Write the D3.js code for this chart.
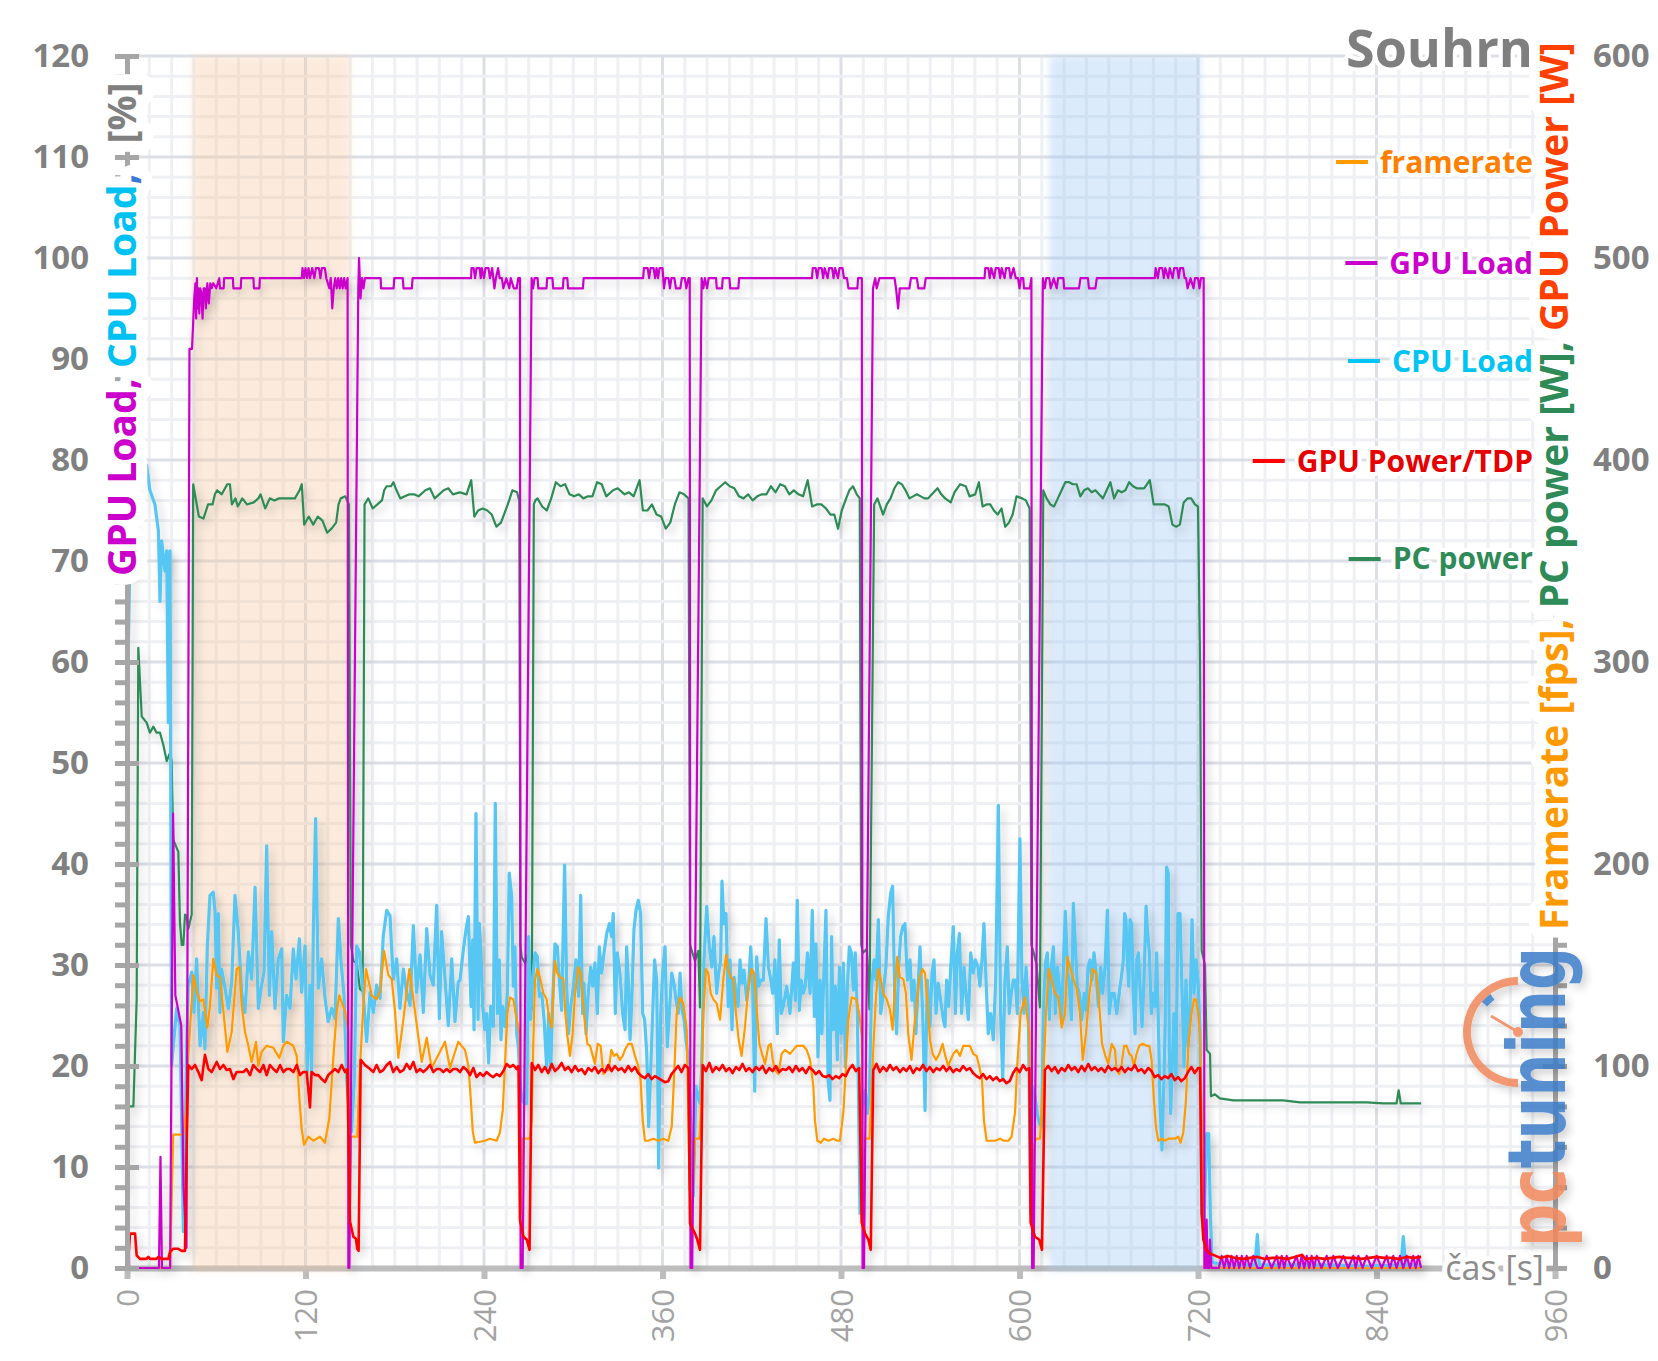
<!DOCTYPE html>
<html>
<head>
<meta charset="utf-8">
<script src="https://cdn.jsdelivr.net/npm/d3@7"></script>
<style>
  body { margin: 0; background: #fff; }
  text { font-family: "Open Sans", sans-serif; }
</style>
</head>
<body>
<div id="chart"></div>
<script>
// ---- data: [time s, value] ----
// GPU load [%] (left axis)
const gpuLoad = [[0,15],[1.5,0],[21.5,0],[22.5,11],[23.5,0],[29,0],[31,45],[32.5,27],[36.5,24],[38,8],[40,2],[42,91],[43.7,91],[45.2,96],[46,97.5],[46.5,94],[47,98],[47.5,95],[48,97],[48.6,94.5],[49.2,97],[50,96.5],[50.8,94],[51.5,97],[52.3,97],[53,95],[54,97.5],[55,95.5],[56,97.5],[57,97],[58,97.5],[60,97],[62,98],[62.5,97],[65,97],[65.3,98],[71.2,98],[71.5,97],[76.5,97],[76.8,98],[85,98],[85.3,97],[89,97],[89.3,98],[117.5,98],[118,99],[119,98],[120,99],[121,98],[122,99],[123,98],[124.5,99],[126,98],[127,99],[129,99],[130,98],[131,99],[133,99],[134,98],[136,97],[137,98],[138,95],[139,97],[140,98],[141,97],[142,98],[143,97],[144,98],[145,97],[146,98],[147,97],[148.3,98],[148.8,0],[149.5,0],[155.5,97],[156,100],[157,96],[158,98],[159,97],[160,98],[170.5,98],[170.8,97],[179.2,97],[179.7,98],[185.4,98],[185.9,97],[191.5,97],[192,98],[231.3,98],[231.6,99],[233,99],[234,98],[235,99],[237,99],[237.8,98],[238.5,99],[240,98],[241,99],[243,99],[244,98],[245.5,99],[247,97],[248,98],[249.5,99],[250.5,98],[252,98],[253,97],[255,98],[257,97],[258,98],[260,97],[262,97],[263,98],[264.2,98],[264.6,0],[266,0],[272,98],[273,97],[274,98],[276,98],[276.5,97],[282,97],[282.5,98],[286,98],[286.5,97],[293,97],[293.5,98],[296,98],[296.5,97],[306.5,97],[307,98],[347,98],[347.5,99],[350,99],[351,98],[352,99],[354,99],[355,98],[356,99],[357,98],[358,99],[360,99],[361,97],[362,98],[364,98],[365,97],[366,98],[368,98],[369,97],[372,97],[373,98],[375,98],[376,97],[377.5,98],[378.3,98],[378.8,0],[380,0],[386.3,98],[387.5,97],[388.5,98],[390,97],[391,98],[396,98],[396.5,97],[400,97],[400.5,98],[405,98],[405.5,97],[411,97],[411.5,98],[460.5,98],[461,99],[463,99],[464,98],[465,99],[467,99],[468,98],[469,99],[471,98],[472,99],[474,99],[475,98],[476,99],[478,98],[479,99],[481,99],[482,98],[484,98],[485,97],[491,97],[491.5,98],[494,98],[494.5,0],[495.5,0],[501.5,97],[503,98],[504,97],[505.8,98],[516,98],[517,97],[518.4,95],[519.5,97],[526,97],[527,98],[531,98],[532,97],[536,97],[537,98],[576.5,98],[577,99],[579,99],[580,98],[581,99],[583,98],[584,99],[586,99],[587,98],[588,99],[590,98],[591,99],[593,99],[594,98],[596,99],[597.5,98],[599,98],[600,97],[601,98],[602.5,98],[603,97],[607,97],[608,98],[608.5,0],[609.5,0],[615.7,98],[617,97],[618,98],[620,98],[621,97],[623,98],[625,97],[626,98],[629.5,98],[630,97],[640,97],[641,98],[646,98],[646.7,97],[651,97],[652,98],[691,98],[691.5,99],[693,98],[694,99],[696,99],[697,98],[698,99],[700,98],[701,99],[703,98],[704,99],[706,99],[707,98],[708,99],[710,99],[711,98],[712,98],[713,97],[715,98],[717,97],[718,98],[720,98],[721,97],[722,98],[723.8,98],[724.3,0],[725.2,0],[725.8,4.8],[726.5,0],[727.5,0],[728,2.8],[729,0],[734,0],[735.9,1.2],[737.6,0],[739.3,1.2],[741,0],[742.6,1.2],[744.3,0],[746,1.2],[747.7,0],[749.4,1.2],[751,0],[752.7,1.2],[755,0],[757.2,1.2],[760,0],[763,0],[766.2,1.2],[769.5,0],[772.9,1.2],[774.6,0],[776.3,1.2],[778,0],[779.6,1.2],[783,0],[786.3,1.2],[788,0],[789.7,1.2],[791.4,0],[793.1,1.2],[794.8,0],[796.4,1.2],[798,0],[799.8,1.2],[803,0],[806.5,1.2],[808.7,0],[811,1.2],[814,0],[817.7,1.2],[821,0],[824.4,1.2],[826,0],[827.8,1.2],[830.6,0],[833.4,1.2],[836.8,0],[840.1,1.2],[843.5,0],[846.8,1.2],[849,0],[851.3,1.2],[853.5,0],[855.8,1.2],[858,0],[860.3,1.2],[862.5,0],[864.7,1.2],[866.4,0],[868.1,1.2],[870,0]];

// CPU load [%] (left axis)
const cpuLoad = [[0,8],[1,62],[3,80],[6.5,80],[9.9,79.7],[13.2,79.5],[15.4,77],[18.8,75.6],[21.1,73],[22.2,66],[23.3,72],[25.5,69],[26.7,71],[27.8,54],[28.9,71],[30,20.1],[33.4,25.7],[35.6,24],[36.8,14.1],[37.9,3.6],[39,12.1],[40.1,22],[41.2,28],[43.5,29.3],[45,25.3],[46.8,30.6],[49.1,22],[51.3,25.3],[52.4,21.7],[54,31.8],[55.8,36.9],[58,37.2],[59.2,35.2],[60.3,27.7],[61.4,35.1],[62.5,25.3],[63.6,29.6],[65.9,27.7],[68.1,25.7],[70.4,28.3],[72.6,36.9],[74.8,33.3],[77.1,27.3],[79.3,25.3],[81.6,31.3],[83.8,28.6],[86.1,37.7],[88.3,25.7],[90.5,28],[92.1,29.3],[93.9,41.8],[95.7,27],[97.3,33.3],[99.5,25.7],[101.7,30.6],[104,31.6],[105.1,22.4],[107.3,27],[109.6,25.7],[111.8,31.6],[113.6,28.6],[115.9,32.6],[117.4,27.3],[119.7,31.9],[121.2,19.4],[123,28],[124.1,19.1],[125.3,33.6],[126.8,44.5],[128.6,27.7],[130.9,30.6],[133.1,26.7],[135.3,24.4],[137.6,25.7],[139.8,24.7],[142.1,34.6],[143.9,30.3],[145.9,27],[147.7,18.7],[149.5,15.4],[151,13.5],[152.8,18.7],[154.4,31.9],[156.2,31.3],[158.9,27],[161.1,22.4],[163.4,27.3],[165.6,25.3],[167.8,28],[170.1,26.7],[172.3,32.9],[174.6,35.4],[176.8,34.9],[179,28.6],[181.3,30.6],[183.5,25.7],[185.8,29.6],[188,27.3],[190.3,26],[192.5,33.9],[194.7,27.3],[197,31],[199.2,25.3],[201.5,33.6],[203.7,29],[205.9,28],[208.2,35.9],[210,24.7],[211.5,33.3],[213.8,28.6],[216,24],[218.3,30.6],[220.5,24.4],[222.7,28.3],[223.9,28.5],[226.1,31.5],[227.9,33.5],[229.5,34.8],[231.3,25.9],[232.4,32.5],[233.3,23.6],[234.6,45],[236,24.6],[236.9,34.1],[238,31.2],[239.1,25.9],[240.5,23.6],[241.8,25.2],[243.1,20.3],[244.5,25.9],[246.3,23.9],[247.6,46],[249,25.2],[250.3,30.5],[251.4,22.6],[252.5,25.9],[254.1,23.9],[255.7,27.2],[257,39.1],[258.6,36.8],[259.7,27.9],[260.8,31.8],[262,23.2],[263.1,21.9],[264.2,18.6],[265.5,16.6],[266.9,16.3],[268.7,16.3],[270,32.8],[271.4,24.6],[272.7,28.5],[274.3,31.2],[275.9,30.8],[277.2,26.9],[278.8,27.2],[280.4,24.6],[282.1,19.9],[283.5,25.2],[284.8,19.6],[286.2,26.5],[287.7,32.1],[289.3,31.8],[290.6,28.5],[292.2,25.5],[294.2,39.9],[295.6,27.9],[296.9,23.2],[298.3,25.9],[300.1,27.9],[301.8,30.5],[303.6,26.9],[305,36.9],[306.3,25.2],[307.2,28.2],[308.6,23.2],[310.1,27.2],[311.7,29.8],[313.1,27.9],[314.6,30.2],[316.2,25.2],[317.5,31.8],[319.1,29.2],[320.7,31.2],[322.5,33.1],[324.3,34.1],[325.8,32.8],[326.9,35.1],[328.3,25.2],[329.6,31.2],[331.4,29.2],[333.2,25.2],[334.8,23.6],[335.9,31.8],[337,28.5],[338.2,22.6],[339.3,26.2],[340.8,33.5],[342.2,35.4],[343.7,36.4],[345.3,35.1],[346.7,25.2],[348,24.6],[349.4,21.3],[350.7,14],[352,19.3],[353.4,25.2],[354.7,30.5],[356.1,28.5],[357.4,9.9],[358.8,25.2],[360.1,29.2],[361.7,31.8],[363.2,21.9],[364.6,25.2],[366.2,29.2],[367.7,28.2],[369.1,26.5],[370.6,25.2],[371.8,29.2],[373.1,25.5],[374.5,24.6],[375.8,22.6],[377.2,20.9],[378.5,16.6],[380.7,7.1],[382.5,18],[383.9,17],[385.2,16.3],[386.3,19.9],[387.9,30.5],[389.7,35.8],[391.5,31.8],[393.1,29.8],[394.6,32.8],[396.4,27.2],[397.8,29.2],[399.1,30.5],[400,38.3],[401.3,34.1],[402.7,35.1],[404.2,25.9],[405.4,30.5],[406.7,23.6],[408.1,28.8],[409.4,27.2],[410.8,25.9],[412.1,30.5],[413.5,28.2],[414.8,29.5],[416.6,26.5],[417.9,27.9],[419.3,31.8],[420.6,27.9],[422,17.5],[423.3,30.8],[424.7,27.9],[426,28.5],[427.8,28.5],[429.6,34.6],[431.2,29.8],[432.8,28.5],[434.1,27.2],[435.6,30.5],[437.2,23.2],[438.5,32.5],[439.9,25.2],[441.2,25.9],[443.5,27.9],[445.7,25.2],[448,30.2],[449.3,26.5],[450.6,36.4],[452,25.5],[453.3,28.5],[454.7,27.2],[456,27.9],[457.4,31.2],[459.2,27.2],[460.7,35.4],[462.1,24.9],[463.2,32.1],[464.5,20.9],[465.9,28.5],[467.2,23.2],[468.6,29.8],[469.9,35.4],[471.3,18.6],[472.6,16.6],[473.7,32.8],[474.8,23.6],[476.2,27.9],[477.5,20.6],[478.9,29.8],[480.2,23.2],[481.6,30.2],[482.9,19.9],[484.3,27.9],[485.6,31.8],[487,31.2],[488.3,27.5],[489.6,31.2],[491,25.2],[492.8,5.4],[493.9,15.3],[496.2,17.6],[497.7,15.3],[499.1,17.3],[500.6,27.9],[502.2,30.5],[503.5,28.5],[505.1,34.5],[506.7,25.2],[508.4,27.2],[510.2,29.8],[511.8,34.8],[513.4,37.1],[514.7,37.8],[516.1,26.9],[517.4,23.2],[518.8,29.8],[520.1,32.8],[521.5,33.8],[523,34.1],[524.6,28.5],[526.4,30.5],[527.7,26.5],[529.1,28.5],[530.4,23.2],[531.8,27.9],[533.1,31.8],[534.9,25.2],[536.5,15.6],[538,28.5],[539.8,23.9],[541.2,29.2],[542.5,30.5],[543.9,25.2],[545.4,28.2],[547,26.5],[548.8,24.6],[549.9,23.9],[551,28.5],[552.4,25.9],[553.7,29.5],[555.5,33.8],[556.9,25.2],[558.2,31.2],[559.6,33.1],[561.1,25.2],[562.7,29.8],[564,27.2],[565.6,24.6],[567.2,31.2],[569,29.2],[570.3,30.5],[572.1,29.8],[573.4,27.9],[574.8,30.5],[576.1,34.1],[577.5,28.5],[579,23.2],[580.6,25.2],[582.4,22.6],[584,28.5],[585.8,45.8],[587.3,25.2],[588.7,18.6],[590.2,28.5],[591.8,31.8],[593.1,25.2],[594.5,27.2],[595.8,28.5],[597.2,28.5],[598.5,25.2],[600.3,42.5],[601.7,28.5],[603,25.2],[604.4,29.8],[605.9,25.9],[607.5,5.4],[608.9,18],[610.4,17],[612,15.3],[613.3,14.3],[614.9,14],[616,25.2],[617.4,30.2],[618.7,31.2],[620.1,24.6],[621.4,29.8],[622.8,31.8],[624.1,25.2],[625.5,29.8],[626.8,27.9],[628.4,24.6],[630,32.1],[630.8,35.3],[632.2,29.8],[633.5,27.9],[634.9,24.6],[636.2,36.1],[637.6,31.8],[638.9,27.9],[640.3,27.2],[641.8,24.6],[643.4,27.2],[644.7,25.5],[646.1,29.8],[647.4,30.5],[648.8,28.5],[650.1,31.2],[651.5,29.2],[653,25.9],[654.6,29.8],[655.9,27.2],[657.5,29.8],[659.1,35.4],[660.4,25.2],[662,27.2],[663.6,27.2],[665.4,25.2],[667.6,27.9],[668.5,28.8],[669.8,30.5],[670.7,35.1],[671.6,34.5],[672.5,30.5],[673.4,27.9],[674.3,34.5],[675.4,34.1],[676.5,27.2],[677.7,23.2],[678.8,30.5],[679.9,31.2],[681,27.9],[682.4,23.9],[683.7,28.5],[685.1,35.8],[686,33.5],[687.3,31.2],[688.6,25.2],[690,27.2],[691.1,25.9],[692.2,31.2],[693.3,24.6],[694.5,16],[695.8,11.7],[697.1,18.6],[698,24.6],[698.9,39.7],[700,39.1],[700.7,21.9],[701.6,15.3],[702.9,20.9],[703.8,25.2],[705.2,18.6],[706.5,35.1],[707.9,35.1],[709.2,27.9],[710.6,19.9],[711.9,28.5],[713.3,21.9],[714.6,25.2],[716,34.5],[717.3,27.2],[718.7,30.5],[720,28.5],[721.4,23.6],[722.5,5.4],[724,3.8],[725.8,13.3],[727.2,13.3],[728.3,5.4],[729.4,0.8],[730.3,0.5],[743.7,0.3],[758.3,0.3],[759.9,3.3],[761.2,0.3],[788.6,0.3],[811,0.3],[833.4,0.2],[856.5,0.3],[858,3.1],[859.6,0.3],[870,0.3]];

// GPU Power / TDP [%] (left axis)
const gpuPower = [[0,1.2],[1.1,1.3],[2,3.4],[5.4,3.4],[6.5,1.25],[8.7,0.9],[13.2,0.9],[14.3,1.1],[15.5,0.9],[19.9,0.9],[21.1,1.1],[23.3,0.9],[27.8,0.9],[28.9,1.6],[31.1,1.9],[34.5,1.9],[36.8,1.7],[39,1.7],[40.1,12],[41.2,20.1],[43.5,19.7],[45.7,20.1],[48,19.4],[50.2,18.6],[52.4,21.1],[54.7,19.7],[56.9,19.4],[60.3,20.4],[62.5,19.7],[64.8,20.1],[67,19.6],[69.2,19.7],[71.5,18.7],[73.7,19.4],[76,19.4],[78.2,19.4],[80.4,19.7],[82.7,19.1],[84.9,20.1],[87.2,19.7],[89.4,19.4],[91.7,20.1],[93.9,19.1],[96.1,20.1],[98.4,19.7],[100.6,19.4],[102.9,20.1],[105.1,19.4],[107.3,19.7],[109.6,19.7],[111.8,19.4],[114.1,20.1],[116.3,19.1],[118.5,19.4],[120.8,19.4],[123,15.9],[124.1,19.4],[126.4,19.1],[128.6,19.1],[130.9,18.7],[133.1,18.4],[135.3,19.1],[137.6,19.4],[139.8,19.7],[142.1,19.4],[144.3,20.1],[146.6,19.4],[148.1,19.7],[149.9,4.6],[152.2,3.1],[153.9,2.9],[154.8,1.9],[155.7,1.7],[157.1,20.6],[160,20.1],[163.4,19.7],[165.6,19.4],[167.8,20.1],[170.1,19.4],[172.3,19.6],[174.6,20.1],[176.8,20.4],[179,19.4],[181.3,19.9],[183.5,19.4],[185.8,19.6],[188,20.2],[190.3,19.7],[192.5,20.4],[194.7,19.4],[197,19.7],[199.2,19.4],[201.5,19.7],[203.7,20.1],[205.9,19.4],[208.2,19.7],[210.4,19.7],[212.7,19.4],[214.9,19.7],[217.1,19.4],[219.4,19.7],[221.6,19.7],[223.9,19.4],[226.1,19.9],[228.4,19.6],[230.6,19.1],[232.8,19.8],[235,18.9],[237.3,19.3],[239.5,19],[241.7,19.4],[244,19.1],[246.2,18.9],[248.5,19.2],[250.7,19],[253,19.5],[255.2,20.2],[257.4,19.9],[259.7,20.1],[261.9,19.7],[263.2,20],[264.2,4.7],[266.6,3.1],[268.8,2.8],[270.6,1.8],[272.1,20.3],[274.3,19.6],[276.5,20.1],[278.8,19.4],[281,19.9],[283.2,19.3],[285.5,20.2],[287.7,19.5],[290,19.8],[292.2,20.3],[294.4,19.6],[296.7,19.9],[298.9,19.4],[301.2,20],[303.4,19.5],[305.6,19.7],[307.9,19.2],[310.1,19.8],[312.4,19.5],[314.6,19.9],[316.8,19.3],[319.1,19.7],[321.3,19.4],[323.5,20.1],[325.8,19.5],[328,20],[330.3,19.6],[332.5,19.8],[334.7,19.4],[337,20],[339.2,19.5],[341.5,19.9],[343.7,19.3],[345.9,19],[348.2,18.8],[350.4,19.2],[352.7,18.7],[354.9,19],[357.1,18.8],[359.4,18.6],[361.6,18.4],[363.9,18.5],[366.1,19.2],[368.3,19.6],[370.6,20],[372.8,19.4],[375,20.1],[377.4,19.8],[378.5,4.4],[381.9,3.4],[383.4,2.8],[385.2,1.8],[387,20.1],[389.2,19.5],[391.5,20.3],[393.7,19.4],[395.9,19.9],[398.2,19.6],[400.4,20.1],[402.7,19.5],[404.9,19.8],[407.1,19.3],[409.4,19.9],[411.6,19.6],[413.8,20.2],[416.1,19.5],[418.3,19.8],[420.6,19.4],[422.8,19.9],[425,19.6],[427.3,20],[429.5,19.3],[431.8,19.8],[434,19.5],[436.2,20],[438.5,19.4],[440.7,19.7],[443,19.6],[445.2,19.9],[447.4,19.4],[449.7,20],[451.9,19.5],[454.1,19.8],[456.4,19.3],[458.6,19.9],[460.9,19.6],[463.1,19.2],[465.3,19.5],[467.6,19],[469.8,18.9],[472,19.1],[474.3,18.7],[476.5,19],[478.8,18.8],[481,19.2],[483.2,19],[485.5,19.7],[487.7,20.1],[490,19.5],[492.2,19.8],[493.9,4.5],[496.2,3.4],[498.4,2.8],[500,1.8],[501.7,19.6],[503.9,20.2],[506.1,19.4],[508.4,19.9],[510.6,19.5],[512.9,20.1],[515.1,19.6],[517.3,19.9],[519.6,19.4],[521.8,19.8],[524,19.5],[526.3,20],[528.5,19.3],[530.8,19.8],[533,19.6],[535.2,20.1],[537.5,19.5],[539.7,19.9],[542,19.4],[544.2,19.8],[546.4,19.6],[548.7,20],[550.9,19.5],[553.1,19.9],[555.4,19.4],[557.6,19.7],[559.9,19.5],[562.1,20],[564.3,19.6],[566.6,19.8],[568.8,19.3],[571.1,19],[573.3,18.8],[575.5,19.2],[577.8,18.7],[580,19],[582.2,18.6],[584.5,18.9],[586.7,18.5],[589,18.7],[591.2,18.3],[593.4,18.5],[595.7,19.3],[597.9,19.8],[600.2,19.4],[602.4,20.1],[604.6,19.6],[606.6,19.8],[607.5,4.5],[610.4,3.1],[613.3,2.8],[615.1,1.8],[617.1,19.6],[619.3,20],[621.6,19.5],[623.8,19.9],[626,19.3],[628.3,19.8],[630.5,19.5],[632.8,20.1],[635,19.6],[637.2,19.9],[639.5,19.4],[641.7,20],[643.9,19.5],[646.2,20.2],[648.4,19.6],[650.7,19.9],[652.9,19.5],[655.1,19.8],[657.4,19.4],[659.6,20],[661.9,19.6],[664.1,19.8],[666.3,19.5],[668.6,19.9],[670.8,19.4],[673,19.8],[675.3,19.6],[677.5,20.1],[679.7,19.5],[682,19.7],[684.2,19.3],[686.5,19.8],[688.7,19.5],[690.9,18.9],[693.2,19.1],[695.4,18.7],[697.7,19],[699.9,18.8],[702.1,19.2],[704.4,18.6],[706.6,18.9],[708.8,18.5],[711.1,18.8],[713.3,19.4],[715.6,19.9],[717.8,19.3],[720,19.8],[721.4,19.8],[722.5,5.4],[723.6,2.8],[725.8,1.8],[728.1,1.4],[730.3,1.3],[735,1],[740,1.2],[745,1],[750,0.9],[755,1],[760,1.1],[765,0.9],[770,1],[775,1],[780,0.9],[785,1.1],[790,1.3],[792,0.9],[800,1],[805,0.9],[810,1],[815,1.1],[820,1],[825,1],[830,0.9],[835,1],[840,1.1],[845,1],[850,1],[855,0.9],[860,1.1],[865,1],[870,1.1]];

// framerate [fps] (right axis)
const framerate = [[0,0],[28.9,0],[31.1,66],[37.9,66],[39.7,77],[41.2,105],[44.6,145],[46.8,137],[49.1,132],[51.3,133],[54,119],[55.8,130],[58,153],[60.3,145],[62.5,144],[64.8,127],[67.5,107],[70.4,117],[73.7,148],[75.5,149],[77.1,130],[79.3,117],[81.6,110],[83.8,102],[86.7,112],[88.3,100],[90.5,107],[93.9,110],[98.4,109],[102.4,104],[105.1,110],[107.3,112],[111.8,110],[114.1,105],[115.9,84],[117.4,69],[119,61],[121.9,65],[125.3,63],[129.7,65],[133.1,62],[136,74],[138.7,104],[141,127],[142.7,135],[146.6,127],[148.8,117],[149.9,28],[150.6,65],[154.8,65],[156.2,94],[158.9,130],[160.7,148],[164.5,135],[167.8,133],[170.1,137],[172.8,157],[175.7,145],[177.9,143],[180.2,127],[182.4,104],[185.8,123],[189.8,148],[193.6,127],[198.1,102],[201.5,114],[204.8,99],[210.4,107],[213.8,112],[217.1,99],[222.7,112],[227.2,108],[229.5,100],[231,85],[232.4,68],[233.9,62],[240.6,63],[244,64],[248.5,63],[250.7,67],[252.6,78],[254.1,101],[255.7,126],[257.5,134],[259.7,133],[262,123],[263.8,116],[264.6,27],[266,64],[270.9,64],[272,73],[273.1,110],[274.3,143],[275.9,148],[277.6,144],[279.9,136],[282.1,133],[283.9,123],[285.5,119],[287.7,152],[289.3,146],[291.1,144],[293.4,143],[294.7,126],[296,115],[297.8,105],[299.6,116],[301.2,136],[303.4,149],[305,146],[306.3,134],[307.9,121],[309.5,111],[311.3,110],[313.1,105],[314.6,101],[316.4,111],[318.4,110],[320.2,96],[322,98],[323.8,98],[325.6,108],[327.4,105],[329.2,106],[331.4,103],[333.2,105],[334.8,108],[337,111],[339.3,111],[341.5,105],[343.7,100],[345.3,93],[346.7,73],[348.2,63],[350.4,63],[353.8,64],[357.2,63],[360.6,64],[363.9,63],[366.2,70],[367.7,93],[369.5,126],[371.8,134],[374,131],[376.3,118],[378.1,44],[379,27],[380.3,34],[381.9,64],[384.8,64],[385.7,77],[387.5,126],[389.2,148],[390.8,146],[392.4,136],[394.2,133],[396.4,131],[398.7,123],[400.9,143],[402.7,155],[404.2,148],[405.8,144],[407.6,143],[409.4,126],[411.2,113],[413.2,105],[415.4,119],[417.7,139],[419.9,148],[421.5,146],[423.3,129],[425.1,111],[426.9,106],[428.9,101],[431.2,110],[432.8,111],[434.1,103],[435.6,98],[437.9,96],[440.1,106],[442.3,108],[445.7,106],[448,108],[450.2,110],[452.4,110],[454.7,110],[456.9,108],[459.2,103],[461.4,90],[462.5,73],[464.1,63],[466.3,62],[468.6,64],[471.5,63],[474.8,64],[477.5,63],[479.3,63],[481.6,77],[483.4,101],[484.9,123],[487.2,134],[490.1,133],[492.3,126],[493.9,115],[494.6,27],[496.2,64],[499.1,64],[500,77],[501.8,110],[503.5,134],[505.1,148],[506.7,143],[508.4,136],[510.7,133],[512.9,128],[514.7,118],[516.3,139],[517.8,154],[519.6,144],[521.9,143],[523.6,136],[525.2,116],[527.4,103],[529.7,123],[532.6,143],[534.8,148],[536.4,146],[538,133],[539.8,113],[541.6,106],[543.9,103],[546.1,106],[548.3,111],[550.1,105],[552.1,100],[553.7,103],[555.5,106],[557.7,108],[560,105],[562.2,110],[564.4,110],[566.7,110],[568.9,106],[571.2,105],[572.9,100],[574.8,93],[576.1,73],[577.9,63],[580.6,63],[583.5,63],[586.9,64],[589.6,63],[592.5,63],[594.7,65],[597,77],[598.5,101],[600.8,126],[603.7,134],[606.6,116],[608.2,22],[609.7,60],[611.1,64],[613.8,64],[616,93],[617.8,126],[619.6,148],[621.6,143],[623.8,136],[626.1,134],[628.4,119],[630.6,126],[632.2,154],[634,149],[636.2,143],[638.5,138],[640.7,126],[642.5,103],[644.7,116],[647,136],[649.2,148],[651.5,146],[653.7,129],[655.5,111],[657.7,105],[659.7,101],[662,111],[664.2,108],[665.3,98],[667.1,96],[668.7,101],[670.3,110],[672,110],[673.8,106],[675.4,105],[677,100],[678.7,106],[680.5,110],[682.8,111],[685.5,110],[687.3,110],[688.8,103],[690.4,83],[691.7,70],[693.3,63],[695.5,64],[697.8,63],[700,64],[702.3,64],[704.5,64],[706.8,65],[708.3,62],[710.1,67],[711.9,83],[713.5,110],[715.6,126],[717.3,133],[718.6,133],[720.2,126],[721.3,116],[722.5,77],[723.6,27],[724.7,0],[870,0]];

// PC power [W] (right axis)
const pcPower = [[0,80],[4.3,80],[6.5,133],[7.6,307],[9.9,273],[13.2,270],[15.4,265],[17.7,268],[19.9,265],[22.2,265],[24.4,259],[26.7,251],[28.9,255],[30,251],[31.1,212],[34.5,206],[35.6,171],[36.8,160],[37.9,160],[39,175],[40.1,174],[41.2,168],[43.5,175],[44.5,388],[48.3,372],[51.4,371],[54.5,378],[57.5,378],[59.1,383],[60.6,385],[63.7,383],[67.4,388],[69.2,388],[70.5,378],[72.9,381],[74.5,377],[77.5,381],[80.6,378],[85.2,379],[88.3,381],[89.8,383],[92.9,376],[96,381],[99.1,380],[102.2,381],[105.2,381],[108.3,381],[112.9,381],[116,385],[117.5,388],[119.1,368],[122.2,372],[125.2,368],[128.3,372],[131.4,370],[134.5,364],[137.5,366],[140.6,369],[142.2,378],[143.7,381],[146.8,382],[149.2,378],[150.5,160],[152.2,152],[154.4,151],[156.6,138],[158.4,137],[159.7,378],[162.2,381],[165.2,376],[168.3,378],[171.4,380],[172.9,385],[174.5,387],[177.5,387],[179.1,389],[180.6,386],[183.7,381],[186.8,382],[189.9,383],[192.9,383],[196,382],[200.6,385],[203.7,386],[206.8,381],[209.9,383],[212.9,385],[216,386],[219.1,383],[223.7,384],[228.3,383],[231.4,390],[233.5,372],[236,375],[239.1,376],[242.2,375],[245.2,373],[248.3,367],[251.4,369],[256,378],[259.1,385],[262.2,384],[263.7,380],[264.5,160],[265.3,154],[267.6,151],[269.9,156],[272.1,128],[273.5,378],[274.5,380],[276,381],[279.1,377],[282.2,375],[285.2,381],[288.3,389],[291.4,387],[294.5,388],[297.5,383],[300.6,382],[303.7,383],[306.8,381],[309.9,382],[312.9,382],[316,389],[319.1,388],[322.2,382],[326.8,385],[329.9,386],[334.5,383],[337.5,384],[340.6,382],[344.6,390],[346.8,375],[349.9,375],[352.9,378],[356,373],[359.1,372],[362.2,366],[365.2,369],[368.3,378],[371.4,384],[374.5,383],[377.5,381],[378.5,160],[381.8,152],[384.1,157],[385.2,129],[387,381],[389.9,377],[392.9,380],[396,385],[399.1,387],[402.2,389],[405.2,387],[408.3,386],[411.4,382],[414.5,381],[417.6,383],[420.6,380],[423.7,382],[426.8,383],[429.9,383],[432.9,387],[436,384],[439.1,388],[442.2,387],[445.2,383],[448.3,385],[451.4,383],[454.5,382],[457.6,390],[460.6,377],[463.7,378],[466.8,378],[469.9,376],[472.9,373],[475.5,373],[478,366],[480.5,375],[483,380],[485.6,385],[488.1,387],[490.6,383],[492.6,381],[493.6,160],[494.7,156],[497.4,158],[499.1,128],[502.3,378],[504.5,381],[508.3,373],[510.8,378],[513.3,381],[515.9,386],[518.4,389],[520.9,388],[523.4,385],[526,381],[528.5,382],[531,383],[533.6,382],[536.1,381],[538.6,381],[541.1,383],[544.9,386],[547.4,383],[550,381],[553.8,379],[556.3,384],[560.1,388],[563.9,387],[566.4,382],[570.2,383],[572.7,389],[575.2,377],[577.8,378],[580.3,378],[582.8,375],[585.3,373],[587.9,376],[590.4,367],[592.9,369],[595.4,373],[598,382],[601.8,381],[604.3,380],[606.8,376],[608,160],[609.2,157],[611.5,150],[613.7,129],[616,385],[618.2,381],[620.7,378],[623.2,377],[625.8,381],[628.3,385],[630.8,389],[633.3,389],[635.9,388],[638.4,388],[640.9,382],[643.4,385],[646,386],[648.5,384],[651,385],[653.5,383],[656.1,381],[658.6,385],[661.1,389],[663.6,381],[666.2,385],[668.7,384],[671.2,385],[673.7,389],[676.3,387],[678.8,386],[681.3,386],[683.8,386],[687.6,390],[690.2,378],[692.7,378],[695.2,378],[697.7,378],[700.3,377],[702.8,368],[705.3,367],[707.8,368],[710.4,379],[712.9,381],[715.4,381],[717.9,378],[720,377],[721.4,300],[722.5,157],[724.7,150],[725.8,108],[728.1,106],[728.7,85],[731.4,86],[734.7,84],[743.7,83],[754.9,83],[766.1,83],[777.3,83],[788.5,82],[799.7,82],[810.9,82],[822.1,82],[833.4,82],[844.6,81.5],[853.5,81.5],[854.9,88],[856.3,81.5],[870,81.5]];

// highlighted time ranges [s]
const bands = [[44, 150], [620, 722]];
const xTicks = [0, 120, 240, 360, 480, 600, 720, 840, 960];
const legendNames = ["framerate", "GPU Load", "CPU Load", "GPU Power/TDP", "PC power"];

// ---- drawing ----
const svg = d3.select("#chart").append("svg")
  .attr("width", 1658).attr("height", 1361);

const x = d3.scaleLinear().domain([0, 960]).range([127, 1555]);
const yL = d3.scaleLinear().domain([0, 120]).range([1268, 56]);
const yR = d3.scaleLinear().domain([0, 600]).range([1268, 56]);

const defs = svg.append("defs");
const sh = defs.append("filter").attr("id", "shadow").attr("filterUnits", "userSpaceOnUse")
  .attr("x", 0).attr("y", 0).attr("width", 1658).attr("height", 1361);
sh.append("feDropShadow").attr("dx", 4).attr("dy", 5).attr("stdDeviation", 4)
  .attr("flood-color", "#000").attr("flood-opacity", 0.2);
const soft = defs.append("filter").attr("id", "soft").attr("filterUnits", "userSpaceOnUse")
  .attr("x", 0).attr("y", 0).attr("width", 1658).attr("height", 1361);
soft.append("feGaussianBlur").attr("stdDeviation", 3);

// grid
const grid = svg.append("g");
grid.selectAll(".gv").data(d3.range(0, 961, 15)).enter().append("line")
  .attr("x1", d => x(d)).attr("x2", d => x(d))
  .attr("y1", yL(120)).attr("y2", yL(0))
  .attr("stroke", d => d % 120 === 0 ? "#dcdfe6" : "#eef0f4")
  .attr("stroke-width", 3);
grid.selectAll(".gh").data(d3.range(0, 121, 2)).enter().append("line")
  .attr("x1", x(0)).attr("x2", x(960))
  .attr("y1", d => yL(d)).attr("y2", d => yL(d))
  .attr("stroke", d => d % 10 === 0 ? "#dcdfe6" : "#eef0f4")
  .attr("stroke-width", 3);

// bottom axis
const axB = svg.append("g").attr("transform", `translate(0,${yL(0)})`)
  .call(d3.axisBottom(x).tickValues(xTicks).tickSize(11).tickSizeOuter(0));
axB.select(".domain").attr("stroke", "#bdbdbd").attr("stroke-width", 6);
axB.selectAll(".tick line").attr("stroke", "#bdbdbd").attr("stroke-width", 6);
axB.selectAll(".tick text")
  .attr("x", 0).attr("y", 0).attr("dy", "0.36em")
  .attr("transform", "translate(0,21) rotate(-90)")
  .attr("text-anchor", "end")
  .attr("fill", "#a3a3a3")
  .style("font-size", "31px");

// bands
const bandColors = ["#f8c9a0", "#9dc8f5"];
svg.append("g").selectAll("rect").data(bands).enter().append("rect")
  .attr("x", d => x(d[0])).attr("width", d => x(d[1]) - x(d[0]))
  .attr("y", yL(120)).attr("height", yL(0) - yL(120) + 3)
  .attr("fill", (d, i) => bandColors[i]).attr("opacity", 0.36)
  .attr("filter", "url(#soft)");

// series
const series = [
  { data: pcPower, y: yR, color: "#2e8b57", w: 2.2 },
  { data: cpuLoad, y: yL, color: "#58c6f2", w: 3.2 },
  { data: framerate, y: yR, color: "#ff9a00", w: 2.2 },
  { data: gpuLoad, y: yL, color: "#cc00cc", w: 2.2 },
  { data: gpuPower, y: yL, color: "#ff0000", w: 2.6 }
];
const lines = svg.append("g").attr("filter", "url(#shadow)");
series.forEach(s => {
  const gen = d3.line().x(d => x(d[0])).y(d => s.y(d[1]));
  lines.append("path").attr("d", gen(s.data))
    .attr("fill", "none").attr("stroke", s.color)
    .attr("stroke-width", s.w).attr("stroke-linejoin", "round");
});

// left axis
const axL = svg.append("g").attr("transform", `translate(${x(0)},0)`)
  .call(d3.axisLeft(yL).tickValues(d3.range(0, 121, 2)).tickSize(12).tickSizeOuter(0)
    .tickPadding(26).tickFormat(d => d % 10 === 0 ? d : ""));
axL.select(".domain").attr("stroke", "#a6a6a6").attr("stroke-width", 5);
axL.selectAll(".tick line").attr("stroke", "#a6a6a6").attr("stroke-width", 5)
  .attr("x1", d => d % 10 === 0 ? 12 : 0);
axL.selectAll(".tick text").attr("fill", "#808080")
  .style("font-size", "33px").style("font-weight", 700);

// right axis
const axR = svg.append("g").attr("transform", `translate(${x(960)},0)`)
  .call(d3.axisRight(yR).tickValues(d3.range(0, 601, 20)).tickSize(12).tickSizeOuter(0)
    .tickPadding(26).tickFormat(d => d % 100 === 0 ? d : ""));
axR.select(".domain").attr("stroke", "#a6a6a6").attr("stroke-width", 5);
axR.selectAll(".tick line").attr("stroke", "#a6a6a6").attr("stroke-width", 5)
  .attr("x1", d => d % 100 === 0 ? -12 : 0);
axR.selectAll(".tick text").attr("fill", "#808080")
  .style("font-size", "33px").style("font-weight", 700);

// helpers for halo text
function halo(sel, w) {
  return sel.attr("stroke", "#fff").attr("stroke-width", w)
    .attr("stroke-linejoin", "round").attr("paint-order", "stroke");
}

// multi-coloured rotated axis title: white halo pass first, then coloured text
function axisTitle(transform, parts, haloW) {
  [true, false].forEach(isHalo => {
    const t = svg.append("text")
      .attr("transform", transform)
      .style("font-size", "39px").style("font-weight", 700).style("white-space", "pre");
    if (isHalo) t.attr("stroke", "#fff").attr("stroke-width", haloW).attr("stroke-linejoin", "round");
    parts.forEach(p => {
      const s = t.append("tspan").attr("fill", isHalo ? "#fff" : p[1]).text(p[0]);
      if (p[2]) s.attr("dx", p[2]);
    });
  });
}
axisTitle("translate(136,576) rotate(-90)",
  [["GPU Load,", "#cc00cc"], [" CPU Load", "#00c2f2"], [",", "#3a78d8"], ["[%]", "#808080", 30]], 22);
axisTitle("translate(1568,930) rotate(-90)",
  [["Framerate [fps],", "#ff9900"], [" PC power [W],", "#2e8b57"], [" GPU Power [W]", "#ff4000"]], 22);

// title
halo(svg.append("text"), 8)
  .attr("x", 1533).attr("y", 67).attr("text-anchor", "end")
  .attr("fill", "#7f7f7f")
  .style("font-size", "52px").style("font-weight", 700)
  .text("Souhrn");

// x axis label
halo(svg.append("text"), 10)
  .attr("x", 1544).attr("y", 1280).attr("text-anchor", "end")
  .attr("fill", "#8c8c8c").style("font-size", "34px").style("white-space", "pre")
  .text("čas [s]");

// legend
const legendText = ["#ff8000", "#cc00cc", "#00c4f4", "#e60000", "#2e8b57"];
const legendLine = ["#ff9a00", "#cc00cc", "#00c4f4", "#ff0000", "#2e8b57"];
const legendAt = [109.5, 99.5, 89.8, 79.9, 70.2];
const lg = svg.append("g");
legendNames.forEach((name, i) => {
  const ty = yL(legendAt[i]);
  const t = halo(lg.append("text"), 8)
    .attr("x", 1533).attr("y", ty).attr("dy", "0.35em").attr("text-anchor", "end")
    .attr("fill", legendText[i]).style("font-size", "30px").style("font-weight", 700)
    .style("white-space", "pre")
    .text(name);
  const bb = t.node().getBBox();
  lg.append("line").attr("x1", bb.x - 44).attr("x2", bb.x - 12)
    .attr("y1", ty).attr("y2", ty)
    .attr("stroke", legendLine[i]).attr("stroke-width", 4);
});

// pctuning logo
const logo = svg.append("g").attr("opacity", 0.85).attr("filter", "url(#shadow)");
const gauge = logo.append("g").attr("transform", "translate(1518,1032)");
gauge.append("path")
  .attr("d", d3.arc()({ innerRadius: 47, outerRadius: 55, startAngle: Math.PI, endAngle: 2 * Math.PI }))
  .attr("fill", "#f0875a");
gauge.append("path")
  .attr("d", d3.arc()({ innerRadius: 40, outerRadius: 47, startAngle: 1.72 * Math.PI, endAngle: 1.8 * Math.PI }))
  .attr("fill", "#3a7bc8");
gauge.append("line").attr("x1", 0).attr("y1", 0).attr("x2", -27).attr("y2", -16)
  .attr("stroke", "#f0875a").attr("stroke-width", 3);
gauge.append("circle").attr("r", 5).attr("fill", "#f0875a");
const lt2 = logo.append("text")
  .attr("transform", "translate(1565,1247) rotate(-90)")
  .attr("textLength", 300).attr("lengthAdjust", "spacingAndGlyphs")
  .style("font-family", "'DejaVu Sans', sans-serif")
  .style("font-size", "80px").style("font-weight", 700);
lt2.append("tspan").attr("fill", "#f0875a").text("pc");
lt2.append("tspan").attr("fill", "#3a7bc8").text("tuning");
</script>
</body>
</html>
